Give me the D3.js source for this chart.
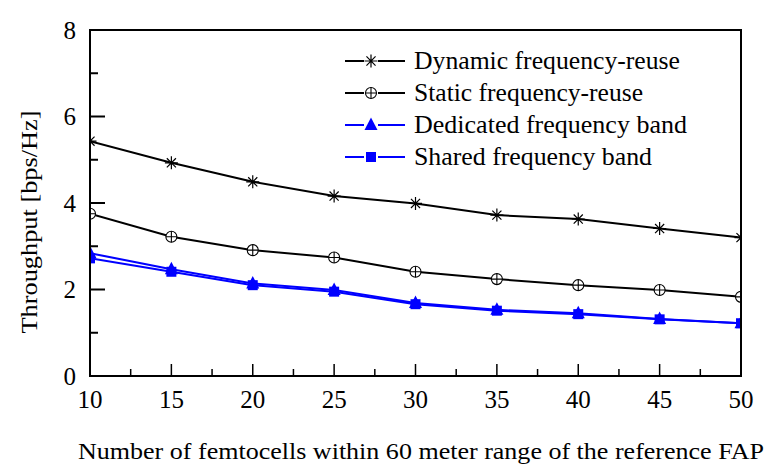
<!DOCTYPE html>
<html><head><meta charset="utf-8">
<script src="https://cdn.jsdelivr.net/npm/d3@7"></script>
<style>body{margin:0;background:#fff}svg{display:block}</style>
</head><body><svg id="c" width="773" height="471" font-family="Liberation Serif, Times New Roman, Times, serif"></svg>
<script>
const xValues = [10, 15, 20, 25, 30, 35, 40, 45, 50];
const dynamicReuse = [5.43, 4.93, 4.49, 4.16, 3.99, 3.72, 3.63, 3.41, 3.20];
const staticReuse = [3.75, 3.22, 2.91, 2.74, 2.41, 2.24, 2.10, 1.99, 1.83];
const dedicatedBand = [2.84, 2.47, 2.14, 1.99, 1.69, 1.53, 1.45, 1.32, 1.22];
const sharedBand = [2.72, 2.41, 2.10, 1.95, 1.66, 1.51, 1.43, 1.31, 1.22];
const seriesNames = ["Dynamic frequency-reuse", "Static frequency-reuse", "Dedicated frequency band", "Shared frequency band"];
const xTicks = [10, 15, 20, 25, 30, 35, 40, 45, 50];
const yTicks = [0, 2, 4, 6, 8];
const xTitle = "Number of femtocells within 60 meter range of the reference FAP";
const yTitle = "Throughput [bps/Hz]";

const series = [
  {name: seriesNames[0], values: dynamicReuse, color: "#000", marker: "asterisk"},
  {name: seriesNames[1], values: staticReuse, color: "#000", marker: "circleplus"},
  {name: seriesNames[3], values: sharedBand, color: "#0000ff", marker: "square"},
  {name: seriesNames[2], values: dedicatedBand, color: "#0000ff", marker: "triangle"}
];
const legendOrder = [0, 1, 3, 2];

const L = 90, R = 741, T = 30, B = 376;
const svg = d3.select("#c");
const x = d3.scaleLinear().domain([10, 50]).range([L, R]);
const y = d3.scaleLinear().domain([0, 8]).range([B, T]);

svg.append("defs").append("clipPath").attr("id", "clip")
  .append("rect").attr("x", L).attr("y", T).attr("width", R - L).attr("height", B - T);

function drawMarker(g, type, color) {
  if (type === "asterisk") {
    const s = 6.5;
    g.append("path").attr("d", `M${-s},0H${s}M0,${-s}V${s}M${-s*0.7},${-s*0.7}L${s*0.7},${s*0.7}M${-s*0.7},${s*0.7}L${s*0.7},${-s*0.7}`)
      .attr("stroke", color).attr("stroke-width", 1.2).attr("fill", "none");
  } else if (type === "circleplus") {
    const r = 5.5;
    g.append("circle").attr("r", r).attr("fill", "#fff").attr("stroke", color).attr("stroke-width", 1.1);
    g.append("path").attr("d", `M${-r},0H${r}M0,${-r}V${r}`).attr("stroke", color).attr("stroke-width", 1.1);
  } else if (type === "triangle") {
    g.append("path").attr("d", "M0,-7.5L6.5,5L-6.5,5Z").attr("fill", color);
  } else if (type === "square") {
    g.append("rect").attr("x", -5).attr("y", -5).attr("width", 10).attr("height", 10).attr("fill", color);
  }
}

const plot = svg.append("g").attr("clip-path", "url(#clip)");
const line = d3.line().x((d, i) => x(xValues[i])).y(d => y(d));
series.forEach(s => {
  plot.append("path").datum(s.values).attr("d", line)
    .attr("fill", "none").attr("stroke", s.color).attr("stroke-width", 2);
});
series.forEach(s => {
  s.values.forEach((v, i) => {
    const g = plot.append("g").attr("transform", `translate(${x(xValues[i])},${y(v)})`);
    drawMarker(g, s.marker, s.color);
  });
});

svg.append("rect").attr("x", L).attr("y", T).attr("width", R - L).attr("height", B - T)
  .attr("fill", "none").attr("stroke", "#000").attr("stroke-width", 2);

const yMinor = d3.range(1, 8, 2);
yTicks.forEach(t => {
  svg.append("line").attr("x1", L).attr("x2", L + 15).attr("y1", y(t)).attr("y2", y(t)).attr("stroke", "#000").attr("stroke-width", 2);
  svg.append("text").attr("x", 76).attr("y", y(t)).attr("dy", "0.35em").attr("text-anchor", "end")
    .attr("font-size", 25).text(t);
});
yMinor.forEach(t => {
  svg.append("line").attr("x1", L).attr("x2", L + 8).attr("y1", y(t)).attr("y2", y(t)).attr("stroke", "#000").attr("stroke-width", 2);
});
const xMinor = d3.range(12.5, 50, 5);
xTicks.forEach(t => {
  svg.append("line").attr("x1", x(t)).attr("x2", x(t)).attr("y1", B).attr("y2", B - 12).attr("stroke", "#000").attr("stroke-width", 1.5);
  svg.append("text").attr("x", x(t)).attr("y", 408).attr("text-anchor", "middle")
    .attr("font-size", 25).text(t);
});
xMinor.forEach(t => {
  svg.append("line").attr("x1", x(t)).attr("x2", x(t)).attr("y1", B).attr("y2", B - 7).attr("stroke", "#000").attr("stroke-width", 1.5);
});

svg.append("text").attr("x", 421).attr("y", 459).attr("text-anchor", "middle").attr("font-size", 24)
  .attr("textLength", 686).attr("lengthAdjust", "spacingAndGlyphs").text(xTitle);
svg.append("text").attr("transform", "translate(37,222) rotate(-90)").attr("text-anchor", "middle").attr("font-size", 24)
  .attr("textLength", 223).attr("lengthAdjust", "spacingAndGlyphs").text(yTitle);

const legRows = [61, 93, 125, 157];
const legWidths = [266, 229, 273, 238];
legendOrder.forEach((si, k) => {
  const s = series[si];
  const ly = legRows[k];
  svg.append("line").attr("x1", 345).attr("x2", 364).attr("y1", ly).attr("y2", ly).attr("stroke", s.color).attr("stroke-width", 2);
  svg.append("line").attr("x1", 378).attr("x2", 405).attr("y1", ly).attr("y2", ly).attr("stroke", s.color).attr("stroke-width", 2);
  drawMarker(svg.append("g").attr("transform", `translate(371,${ly})`), s.marker, s.color);
  svg.append("text").attr("x", 414).attr("y", ly).attr("dy", "0.33em").attr("font-size", 25)
    .attr("textLength", legWidths[k]).attr("lengthAdjust", "spacingAndGlyphs").text(s.name);
});
</script></body></html>
